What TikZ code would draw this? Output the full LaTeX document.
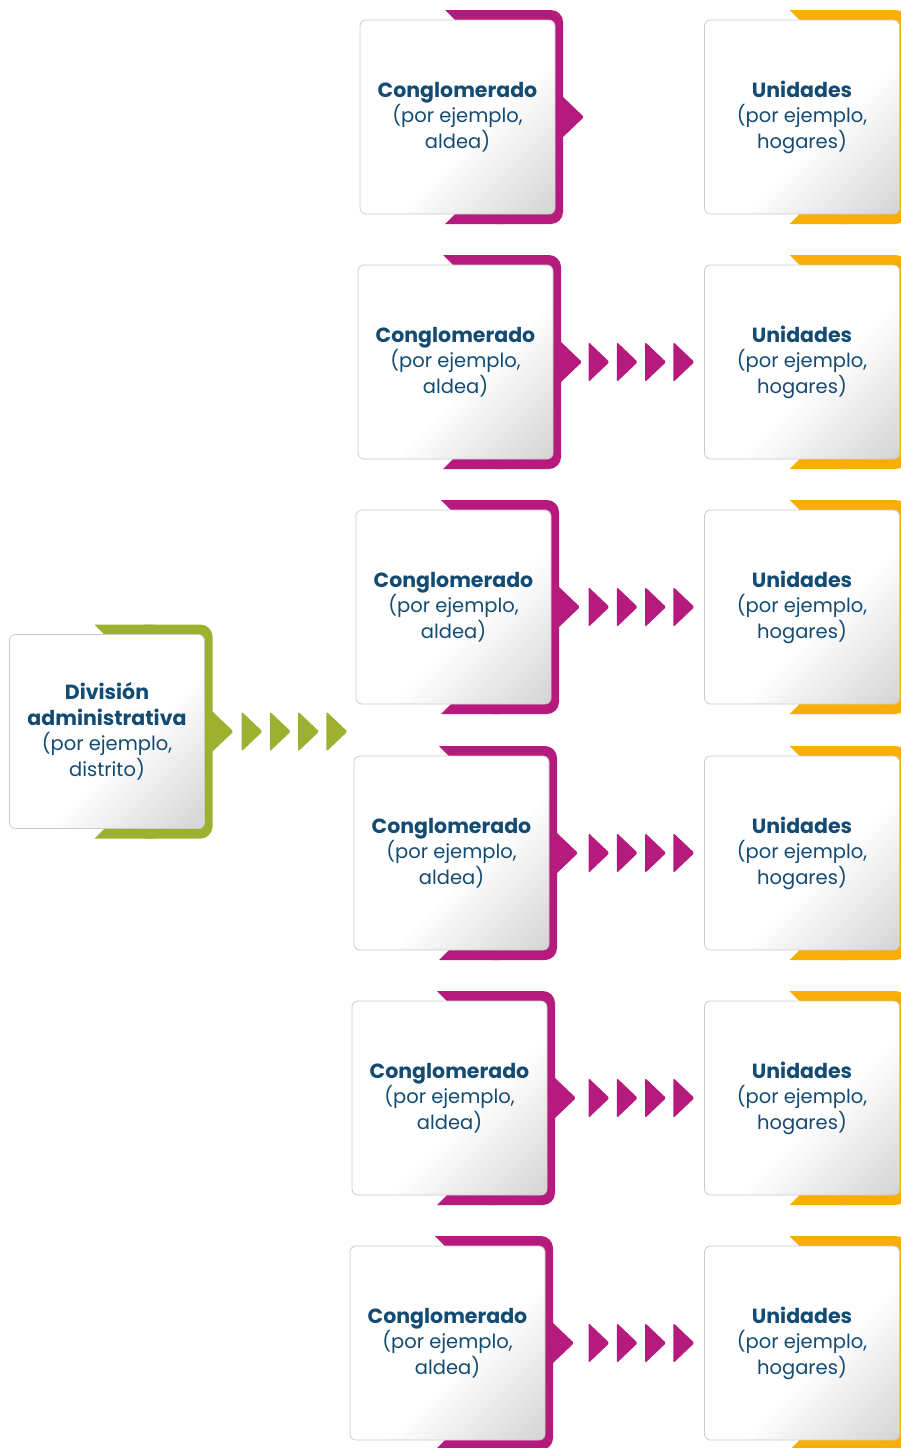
\documentclass[tikz,border=0pt]{standalone}
\usepackage{fontspec}
\setmainfont{Poppins}
\usepackage{tikz}
\usetikzlibrary{positioning,calc,backgrounds}
\definecolor{magentaC}{HTML}{B41B7D}
\definecolor{yellowC}{HTML}{F8AE06}
\definecolor{greenC}{HTML}{9DB02F}
\definecolor{textblue}{HTML}{134B73}
\definecolor{rimgray}{HTML}{CBCBCB}
\definecolor{boxgray}{HTML}{D0D0D0}
\pgfdeclarehorizontalshading{boxshade}{100bp}{color(0bp)=(white); color(56bp)=(white); color(88bp)=(boxgray); color(100bp)=(boxgray)}
% coloured bracket behind a box
\newcommand{\frameback}[2]{%
  \fill[#2] ($(#1.north west)+(85,-10)$) -- ++(60,0) -- ++(0,60) -- cycle;
  \fill[#2] ($(#1.south west)+(85,10)$) -- ++(60,0) -- ++(0,-60) -- cycle;
  \fill[#2, rounded corners=12pt] ($(#1.north west)+(125,-10)$) rectangle ($(#1.south east)+(8,10)$);
}
\newcommand{\ttl}[1]{{\fontsize{20.5}{25.5}\selectfont\bfseries #1}\\}

\begin{document}
\begin{tikzpicture}[
  x=1pt, y=-1pt,
  box/.style={
    shape=rectangle,
    rounded corners=6pt,
    draw=rimgray,
    line width=0.8pt,
    shading=boxshade,
    shading angle=-45,
    minimum width=195pt,
    minimum height=194pt,
    inner sep=0pt,
    outer sep=0pt,
    align=center,
    text=textblue,
    font=\fontsize{19.5}{25.5}\selectfont,
  },
  tab/.style={rounded corners=1.5pt}]
  \useasboundingbox (0,0) rectangle (901,1448);
  \clip (0,0) rectangle (901,1448);

  % division
  \node[box] (d) at (107,731.5) {\ttl{División}\ttl{administrativa}(por ejemplo,\\distrito)};
  \begin{scope}[on background layer]
    \frameback{d}{greenC}
    \fill[greenC, tab] ($(d.east)+(7,-21)$) -- ++(22,21) -- ++(-22,21) -- cycle;
  \end{scope}
  \foreach \k in {0,...,3}
    \fill[greenC, tab] ($(d.east)+(37+28.3*\k,-20)$) -- ++(21,20) -- ++(-21,20) -- cycle;

  % conglomerados and unidades
  \foreach \i/\x/\y in {1/457.5/117, 2/455.5/362, 3/453.5/607,
                        4/451.5/853, 5/449.5/1098, 6/447.5/1343} {
    \node[box] (c\i) at (\x,\y) {\ttl{Conglomerado}(por ejemplo,\\aldea)};
    \node[box] (u\i) at (802,\y) {\ttl{Unidades}(por ejemplo,\\hogares)};
    \begin{scope}[on background layer]
      \frameback{c\i}{magentaC}
      \fill[magentaC, tab] ($(c\i.east)+(7,-21)$) -- ++(22,21) -- ++(-22,21) -- cycle;
      \frameback{u\i}{yellowC}
    \end{scope}
  }
  \foreach \i in {2,...,6}
    \foreach \k in {0,...,3}
      \fill[magentaC, tab] ($(u\i.west)+(-116+28.3*\k,-20)$) -- ++(21,20) -- ++(-21,20) -- cycle;
\end{tikzpicture}
\end{document}
